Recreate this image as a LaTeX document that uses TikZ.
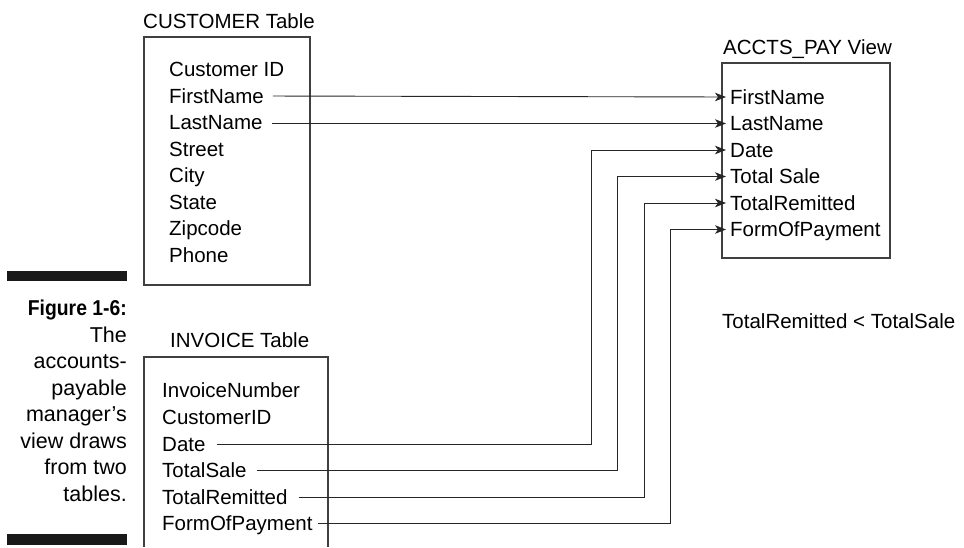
\documentclass[tikz,border=0pt]{standalone}
\usepackage{fontspec}
\setmainfont{Liberation Sans}
\newfontfamily\figboldfont[FakeStretch=0.9]{Liberation Sans}
\usetikzlibrary{arrows.meta}
\tikzset{
  fld/.style={font=\fontsize{20.5}{24}\selectfont, inner sep=0pt, anchor=west, text height=14.7pt, text depth=0pt},
  ttl/.style={fld},
  captxt/.style={font=\fontsize{21.5}{25}\selectfont, inner sep=0pt, anchor=base east},
  captxtb/.style={font=\figboldfont\fontsize{21.5}{25}\selectfont\bfseries, inner sep=0pt, anchor=base east},
  tbox/.style={draw=black!75, line width=1.2pt},
  conn/.style={draw=black!85, line width=0.9pt},
  arr/.style={conn, -{Stealth[length=11pt,width=8.5pt,inset=3pt]}, shorten >=4pt},
  barfill/.style={fill=black!90, draw=none}
}
\begin{document}
\begin{tikzpicture}[x=1pt,y=-1pt]
\useasboundingbox (0,0) rectangle (964,547);
% caption bars
\fill[barfill] (7,271) rectangle (127,281);
\fill[barfill] (7,534) rectangle (127,545);
% caption
\node[captxtb] (fig) at (127,315) {Figure 1-6:};
\node[captxt] (c1) at (127,342) {The};
\node[captxt] (c2) at (127,368.5) {accounts-};
\node[captxt] (c3) at (127,395) {payable};
\node[captxt] (c4) at (127,421.5) {manager’s};
\node[captxt] (c5) at (127,448) {view draws};
\node[captxt] (c6) at (127,474.5) {from two};
\node[captxt] (c7) at (127,501) {tables.};
% CUSTOMER table
\node[ttl] (custt) at (143,21) {CUSTOMER Table};
\draw[tbox] (144,37) rectangle (310,285);
\node[fld] (cid) at (169,69) {Customer ID};
\node[fld] (cfn) at (169,96) {FirstName};
\node[fld] (cln) at (169,122.5) {LastName};
\node[fld] (cst) at (169,149) {Street};
\node[fld] (cci) at (169,175.5) {City};
\node[fld] (csa) at (169,202) {State};
\node[fld] (czi) at (169,228.5) {Zipcode};
\node[fld] (cph) at (169,255) {Phone};
% ACCTS_PAY view
\node[ttl] (viewt) at (723,47) {ACCTS\_PAY View};
\draw[tbox] (722,63) rectangle (890,258);
\node[fld] (vfn) at (730,97) {FirstName};
\node[fld] (vln) at (730,123.5) {LastName};
\node[fld] (vda) at (730,150) {Date};
\node[fld] (vts) at (730,176.5) {Total Sale};
\node[fld] (vtr) at (730,203) {TotalRemitted};
\node[fld] (vfp) at (730,229.5) {FormOfPayment};
\node[fld] (cond) at (722,321) {TotalRemitted < TotalSale};
% INVOICE table
\node[ttl] (invt) at (170,340) {INVOICE Table};
\draw[tbox] (144,547) -- (144,357) -- (328,357) -- (328,547);
\node[fld] (iin) at (162,390.5) {InvoiceNumber};
\node[fld] (icu) at (162,417) {CustomerID};
\node[fld] (ida) at (162,444) {Date};
\node[fld] (its) at (162,470.5) {TotalSale};
\node[fld] (itr) at (162,497) {TotalRemitted};
\node[fld] (ifp) at (162,523) {FormOfPayment};
% elbow columns
\coordinate (k1) at (591,0);
\coordinate (k2) at (617,0);
\coordinate (k3) at (644,0);
\coordinate (k4) at (670,0);
% connectors
\draw[arr, shorten <=9pt] (cfn.east) -- (vfn.west);
\draw[arr, shorten <=9pt] (cln.east |- vln.west) -- (vln.west);
\draw[arr, shorten <=11pt] (ida.east) -- (ida.east -| k1) -- (vda.west -| k1) -- (vda.west);
\draw[arr, shorten <=10pt] (its.east) -- (its.east -| k2) -- (vts.west -| k2) -- (vts.west);
\draw[arr, shorten <=11pt] (itr.east) -- (itr.east -| k3) -- (vtr.west -| k3) -- (vtr.west);
\draw[arr, shorten <=5pt] (ifp.east) -- (ifp.east -| k4) -- (vfp.west -| k4) -- (vfp.west);
\end{tikzpicture}
\end{document}
